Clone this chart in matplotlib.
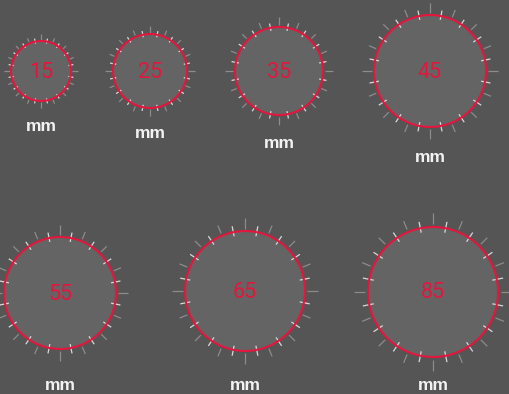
import numpy as np
import matplotlib

matplotlib.use("Agg")
import matplotlib.pyplot as plt
from matplotlib.patches import Circle

# data
values = [15, 25, 35, 45, 55, 65, 85]
unit_labels = ["mm"] * len(values)

# layout (pixel coords): centre x, centre y, radius, label y
centers_x = [41, 150, 279, 430, 60, 245, 433]
centers_y = [71, 71, 71, 71, 293, 291, 292]
radii = [30, 37, 44, 56, 56, 60, 65]
label_y = [126, 134, 143, 157, 386, 386, 386]

BG = "#555555"
FILL = "#646464"
RED = "#e3173e"
TICK_DARK = "#8c8c8c"
TICK_LIGHT = "#d8d8d8"

W, H = 509, 394
fig = plt.figure(figsize=(W / 100, H / 100), dpi=100, facecolor=BG)
ax = fig.add_axes([0, 0, 1, 1])
ax.set_facecolor(BG)
ax.set_xlim(0, W)
ax.set_ylim(H, 0)
ax.set_aspect("equal")
ax.axis("off")

n_ticks = 32
angles = np.arange(n_ticks) * 2 * np.pi / n_ticks

for v, cx, cy, r, ly, lab in zip(values, centers_x, centers_y, radii, label_y, unit_labels):
    ax.add_patch(Circle((cx, cy), r, facecolor=FILL, edgecolor="none", zorder=1))
    for i, a in enumerate(angles):
        ca, sa = np.cos(a), -np.sin(a)
        if i % 2 == 0:
            r0, r1 = r * 1.04, r * (1.22 if i % 8 == 0 else 1.18)
            col, lw = TICK_DARK, 0.9
        else:
            r0, r1 = r * 0.93, r * 1.10
            col, lw = TICK_LIGHT, 0.9
        ax.plot([cx + r0 * ca, cx + r1 * ca], [cy + r0 * sa, cy + r1 * sa],
                color=col, lw=lw, solid_capstyle="butt", zorder=2)
    ax.add_patch(Circle((cx, cy), r, facecolor="none", edgecolor=RED, lw=1.5, zorder=3))
    ax.text(cx, cy + 1, str(v), color=RED, fontsize=15.5, family="Roboto",
            ha="center", va="center", zorder=4)
    ax.text(cx, ly, lab, color="#f2f2f2", fontsize=12.5, family="Liberation Sans",
            weight="bold", ha="center", va="center", zorder=4)

fig.savefig("out.png", dpi=100, facecolor=BG)
